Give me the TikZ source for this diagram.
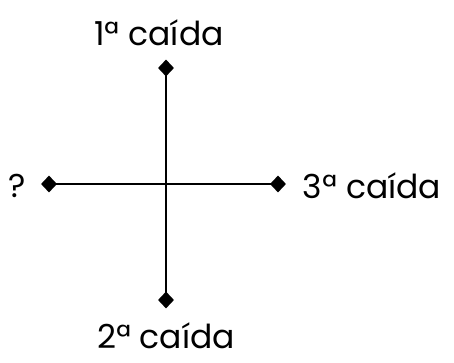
\documentclass[tikz,border=0pt]{standalone}
\usepackage{fontspec}
\setmainfont{Poppins}
\usetikzlibrary{shapes.geometric}
\begin{document}
\begin{tikzpicture}[x=1pt,y=-1pt,
  tip/.style={diamond,fill=black,inner sep=0pt,minimum width=16pt,minimum height=17pt},
  lbl/.style={font=\fontsize{33}{40}\selectfont,inner sep=0pt},
  axis/.style={line width=2.2pt}]
\useasboundingbox (0,0) rectangle (454,363);
\node[tip] (t) at (166,68) {};
\node[tip] (b) at (166,300) {};
\node[tip] (l) at (49,184) {};
\node[tip] (r) at (278,184) {};
\draw[axis] (t.center) -- (b.center);
\draw[axis] (l.center) -- (r.center);
\node[lbl] (lt) at (159,33) {1ª caída};
\node[lbl] (lb) at (166,336) {2ª caída};
\node[lbl] (ll) at (17,186) {?};
\node[lbl] (lr) at (372,186) {3ª caída};
\end{tikzpicture}
\end{document}
